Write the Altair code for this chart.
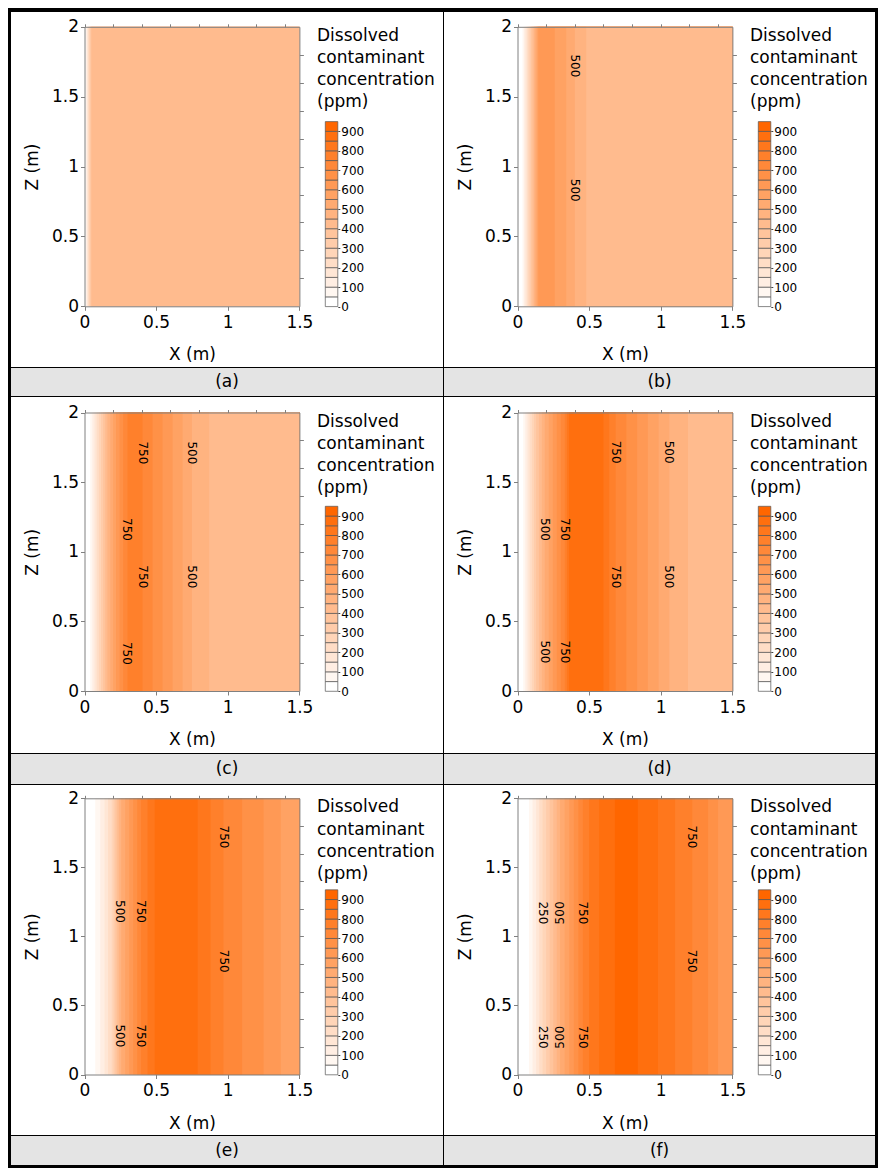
import altair as alt
import pandas as pd

FONT = "DejaVu Sans"
GRAY = "#808080"
X_MAX = 1.5
Z_MAX = 2.0

# ---- concentration profiles: left edge of each column (m) and concentration (ppm)
A_X = [0.0, 0.006, 0.012, 0.018, 0.024, 0.030, 0.036, 0.042, 0.048]
A_C = [25, 75, 125, 175, 225, 275, 325, 375, 440]

B_X = [0.0, 0.035, 0.045, 0.055, 0.065, 0.075, 0.085, 0.095, 0.105, 0.115, 0.125, 0.135,
       0.145, 0.26, 0.34, 0.40, 0.48]
B_C = [25, 75, 125, 175, 225, 275, 325, 375, 425, 475, 525, 575, 625, 575, 525, 475, 440]

C_X = [0.0, 0.04, 0.055, 0.07, 0.085, 0.10, 0.115, 0.13, 0.145, 0.16, 0.18, 0.20, 0.22,
       0.245, 0.27, 0.30, 0.405, 0.475, 0.545, 0.615, 0.685, 0.75, 0.87]
C_C = [25, 75, 125, 175, 225, 275, 325, 375, 425, 475, 525, 575, 625, 675, 725, 775,
       725, 675, 625, 575, 525, 475, 440]

D_X = [0.0, 0.04, 0.055, 0.07, 0.085, 0.10, 0.115, 0.13, 0.15, 0.17, 0.19, 0.218, 0.246,
       0.274, 0.302, 0.33, 0.345, 0.36, 0.60, 0.64, 0.685, 0.76, 0.835, 0.91, 0.985, 1.06, 1.19]
D_C = [25, 75, 125, 175, 225, 275, 325, 375, 425, 475, 525, 575, 625, 675, 725, 775, 825,
       875, 825, 775, 725, 675, 625, 575, 525, 475, 440]

E_X = [0.0, 0.075, 0.11, 0.14, 0.165, 0.19, 0.203, 0.216, 0.229, 0.242, 0.256, 0.284, 0.312,
       0.34, 0.368, 0.395, 0.44, 0.49, 0.79, 0.88, 0.97, 1.10, 1.25, 1.37]
E_C = [25, 75, 125, 175, 225, 275, 325, 375, 425, 475, 525, 575, 625, 675, 725, 775, 825,
       875, 825, 775, 725, 675, 625, 575]

F_X = [0.0, 0.08, 0.105, 0.13, 0.152, 0.175, 0.2, 0.225, 0.25, 0.274, 0.297, 0.329, 0.361,
       0.393, 0.425, 0.456, 0.50, 0.57, 0.68, 0.84, 0.98, 1.10, 1.22, 1.33, 1.40]
F_C = [25, 75, 125, 175, 225, 275, 325, 375, 425, 475, 525, 575, 625, 675, 725, 775, 825,
       875, 925, 875, 825, 775, 725, 675, 625]

# ---- contour labels: x (m), z (m), text, angle
A_LX, A_LZ, A_LT, A_LA = [], [], [], []
B_LX = [0.40, 0.40]
B_LZ = [1.72, 0.83]
B_LT = ["500", "500"]
B_LA = [90, 90]
C_LX = [0.405, 0.75, 0.30, 0.405, 0.75, 0.30]
C_LZ = [1.71, 1.71, 1.16, 0.82, 0.82, 0.27]
C_LT = ["750", "500", "750", "750", "500", "750"]
C_LA = [90, 90, 90, 90, 90, 90]
D_LX = [0.685, 1.06, 0.19, 0.33, 0.685, 1.06, 0.19, 0.33]
D_LZ = [1.715, 1.715, 1.16, 1.16, 0.82, 0.82, 0.28, 0.28]
D_LT = ["750", "500", "500", "750", "750", "500", "500", "750"]
D_LA = [90, 90, 90, 90, 90, 90, 90, 90]
E_LX = [0.972, 0.251, 0.395, 0.972, 0.251, 0.395]
E_LZ = [1.72, 1.18, 1.18, 0.82, 0.28, 0.28]
E_LT = ["750", "500", "750", "750", "500", "750"]
E_LA = [90, 90, 90, 90, 90, 90]
F_LX = [1.22, 0.175, 0.297, 0.456, 1.22, 0.175, 0.297, 0.456]
F_LZ = [1.72, 1.17, 1.17, 1.17, 0.82, 0.27, 0.27, 0.27]
F_LT = ["750", "250", "500", "750", "750", "250", "500", "750"]
F_LA = [90, 90, 270, 90, 90, 90, 270, 90]

CAPTIONS = ["(a)", "(b)", "(c)", "(d)", "(e)", "(f)"]

# ---- colour classes and legend
THRESH = [50, 100, 150, 200, 250, 300, 350, 400, 450, 500, 550, 600, 650, 700, 750, 800, 850, 900]
COLORS = ["#FFFFFF", "#FFF7F1", "#FFEEE3", "#FFE6D5", "#FFDDC6", "#FFD5B8", "#FFCCAA",
          "#FFC49C", "#FFBB8E", "#FFB380", "#FFAA71", "#FFA263", "#FF9955", "#FF9147",
          "#FF8839", "#FF802B", "#FF771C", "#FF6F0E", "#FF6600"]
LEG_EDGES = [0, 50, 100, 150, 200, 250, 300, 350, 400, 450, 500, 550, 600, 650, 700, 750,
             800, 850, 900, 950]
LEG_TICKS = [0, 100, 200, 300, 400, 500, 600, 700, 800, 900]
LEGEND_TITLE = "Dissolved\ncontaminant\nconcentration\n(ppm)"

X_TICKS = [0, 0.5, 1, 1.5]
Z_TICKS = [0, 0.5, 1, 1.5, 2]
X_MINOR = [0, 0.2, 0.4, 0.6, 0.8, 1.0, 1.2, 1.4]
Z_MINOR = [0.2, 0.4, 0.6, 0.8, 1.0, 1.2, 1.4, 1.6, 1.8]

# ---- layout (pixels)
CELL_W = [432, 431]
MAIN_H = [355, 356, 350]
CAP_H = [28, 30, 29]
PLOT_Y = [(294.3, 14.8), (294.0, 15.5), (289.5, 13.3)]  # (z=0, z=2) inside cell
X_RANGE = (73.5, 288.4)
LEG_X = (314.3, 326.8)
LEG_H = 185
LEG_TITLE_X = 306

PANELS = [
    (A_X, A_C, A_LX, A_LZ, A_LT, A_LA),
    (B_X, B_C, B_LX, B_LZ, B_LT, B_LA),
    (C_X, C_C, C_LX, C_LZ, C_LT, C_LA),
    (D_X, D_C, D_LX, D_LZ, D_LT, D_LA),
    (E_X, E_C, E_LX, E_LZ, E_LT, E_LA),
    (F_X, F_C, F_LX, F_LZ, F_LT, F_LA),
]


def make_cell(i, row, col):
    px, pc, lx, lz, lt, la = PANELS[i]
    W = CELL_W[col]
    H = MAIN_H[row]
    ybot, ytop = PLOT_Y[row]
    x0, x1 = X_RANGE
    xsc = alt.Scale(domain=[0, X_MAX], range=[x0, x1], nice=False, zero=False)
    zsc = alt.Scale(domain=[0, Z_MAX], range=[ybot, ytop], nice=False, zero=False)
    csc = alt.Scale(type="threshold", domain=THRESH, range=COLORS)

    cells = pd.DataFrame({"x0": px, "conc": pc})
    cells["x1"] = X_MAX
    cells["zb"] = 0.0
    cells["zt"] = Z_MAX

    common = dict(grid=False, domainColor=GRAY, tickColor=GRAY, zindex=1,
                  labelFont=FONT, titleFont=FONT, labelColor="black", titleColor="black",
                  titleFontWeight="normal", labelFlush=False, labelOverlap=False)

    heat = alt.Chart(cells).mark_rect(strokeWidth=0).encode(
        x=alt.X("x0:Q", scale=xsc, axis=alt.Axis(
            orient="bottom", offset=ybot - H, values=X_TICKS, format="~g",
            tickSize=4, labelPadding=4, labelFontSize=17, title="X (m)",
            titleFontSize=17, titleY=48.6, titleBaseline="middle", **common)),
        x2="x1:Q",
        y=alt.Y("zb:Q", scale=zsc, axis=alt.Axis(
            orient="left", offset=-x0, values=Z_TICKS, format="~g",
            tickSize=4, labelPadding=2, labelFontSize=17, title="Z (m)",
            titleFontSize=17, titleX=-52, titleBaseline="middle", **common)),
        y2="zt:Q",
        color=alt.Color("conc:Q", scale=csc, legend=None),
    )
    frame = alt.Chart(cells).mark_point(opacity=0).encode(
        x=alt.X("x0:Q", scale=xsc, axis=alt.Axis(
            orient="top", offset=-ytop, values=X_MINOR, labels=False, title=None,
            tickSize=3, **common)),
        y=alt.Y("zb:Q", scale=zsc, axis=alt.Axis(
            orient="right", offset=x1 - W, values=Z_MINOR, labels=False, title=None,
            tickSize=4, **common)),
    )
    layers = [heat, frame]
    if lx:
        lab = pd.DataFrame({"x": lx, "z": lz, "t": lt, "a": la})
        text = alt.Chart(lab).mark_text(font=FONT, fontSize=12, color="black",
                                        align="center", baseline="middle").encode(
            x=alt.X("x:Q", scale=xsc, axis=None),
            y=alt.Y("z:Q", scale=zsc, axis=None),
            text="t:N",
            angle=alt.Angle("a:Q", scale=None),
        )
        layers.append(text)
    plot = alt.layer(*layers).resolve_axis(x="independent", y="independent")

    leg = pd.DataFrame({"lo": LEG_EDGES[:-1], "hi": LEG_EDGES[1:]})
    lsc = alt.Scale(domain=[LEG_EDGES[0], LEG_EDGES[-1]],
                    range=[ybot + 0.3, ybot + 0.3 - LEG_H], nice=False, zero=False)
    legend = alt.Chart(leg).mark_rect(stroke="#555555", strokeWidth=0.7).encode(
        x=alt.value(LEG_X[0]), x2=alt.value(LEG_X[1]),
        y=alt.Y("lo:Q", scale=lsc, axis=alt.Axis(
            orient="right", offset=LEG_X[1] - W, values=LEG_TICKS, format="d",
            domain=False, tickSize=2, tickColor="#444444", labelPadding=1,
            labelFontSize=12, labelFont=FONT, labelColor="black", title=None,
            grid=False, zindex=1, labelOverlap=False)),
        y2="hi:Q",
        color=alt.Color("lo:Q", scale=csc, legend=None),
    )
    ttl = alt.Chart(pd.DataFrame({"t": [LEGEND_TITLE]})).mark_text(
        align="left", baseline="top", lineBreak="\n", lineHeight=22.2,
        font=FONT, fontSize=17, color="black").encode(
        x=alt.value(LEG_TITLE_X), y=alt.value(ytop + 1.1), text="t:N")

    main = alt.layer(plot, legend, ttl).resolve_scale(y="independent").properties(
        width=W, height=H)

    cap = alt.Chart(pd.DataFrame({"t": [CAPTIONS[i]]})).mark_text(
        font=FONT, fontSize=17, align="center", baseline="middle", color="black").encode(
        x=alt.value(W / 2), y=alt.value(CAP_H[row] / 2), text="t:N").properties(
        width=W, height=CAP_H[row],
        view=alt.ViewBackground(fill="#E4E4E4", strokeWidth=0))
    return alt.vconcat(main, cap, spacing=1, bounds="flush")


rows = []
for r in range(3):
    rows.append(alt.hconcat(make_cell(2 * r, r, 0), make_cell(2 * r + 1, r, 1),
                            spacing=1))

chart = alt.vconcat(*rows, spacing=1).properties(
    padding={"left": 3, "top": 4, "right": 3, "bottom": 3},
    background="black",
).configure_view(fill="white", strokeWidth=0)

chart.save("out.html", embed_options={"renderer": "svg", "actions": False})
